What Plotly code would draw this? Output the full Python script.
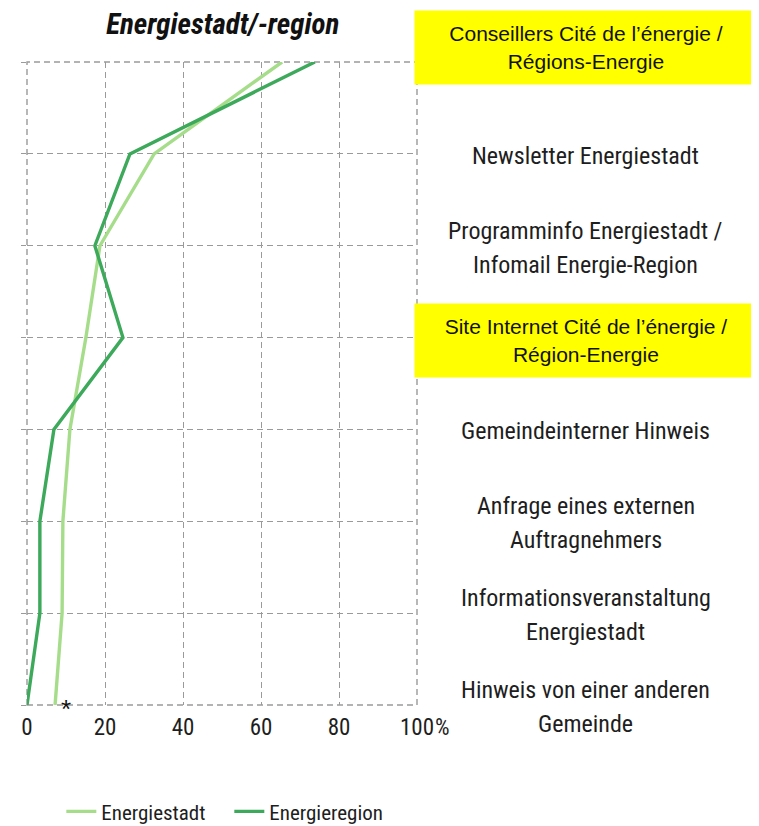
import plotly.graph_objects as go

categories = [
    "Conseillers Cité de l’énergie /<br>Régions-Energie",
    "Newsletter Energiestadt",
    "Programminfo Energiestadt /<br>Infomail Energie-Region",
    "Site Internet Cité de l’énergie /<br>Région-Energie",
    "Gemeindeinterner Hinweis",
    "Anfrage eines externen<br>Auftragnehmers",
    "Informationsveranstaltung<br>Energiestadt",
    "Hinweis von einer anderen<br>Gemeinde",
]
highlighted = [True, False, False, True, False, False, False, False]
energiestadt = [65.4, 32.6, 18.7, 15.1, 11.0, 9.2, 9.0, 7.2]
energieregion = [73.8, 26.4, 17.4, 24.6, 6.9, 3.3, 3.3, 0.0]
x_tickvals = [0, 20, 40, 60, 80, 100]
x_ticktext = ["0", "20", "40", "60", "80", "100"]

NARROW = "Liberation Sans Narrow, Arial Narrow, Roboto Condensed, sans-serif"
ARIAL = "Liberation Sans, Arial, sans-serif"
LIGHT = "#a6dd8b"
DARK = "#3da95a"
GRID = "#9a9a9a"
TXT = "#1e1e1e"

fig = go.Figure()
fig.add_trace(go.Scatter(x=energiestadt, y=categories, mode="lines", name="Energiestadt",
                         line=dict(color=LIGHT, width=3.4)))
fig.add_trace(go.Scatter(x=energieregion, y=categories, mode="lines", name="Energieregion",
                         line=dict(color=DARK, width=3.4)))

LABEL_X = 1.433
LINE_GAP = 34
annotations = []
for cat, hl in zip(categories, highlighted):
    if hl:
        annotations.append(dict(
            x=LABEL_X, xref="paper", y=cat, yref="y", text=cat, showarrow=False,
            xanchor="center", yanchor="middle", bgcolor="#ffff00",
            width=340, height=71, borderpad=1, align="center",
            yshift=15 if cat == categories[0] else -3,
            font=dict(family=ARIAL, size=21, color="#111111")))
    else:
        lines = cat.split("<br>")
        n = len(lines)
        for i, ln in enumerate(lines):
            annotations.append(dict(
                x=LABEL_X, xref="paper", y=cat, yref="y", text=ln, showarrow=False,
                xanchor="center", yanchor="middle", align="center",
                yshift=-2 + ((n - 1) / 2 - i) * LINE_GAP,
                font=dict(family=NARROW, size=24, color=TXT)))

annotations.append(dict(x=100, xref="x", y=-0.036, yref="paper", text="%", showarrow=False,
                        xanchor="left", yanchor="middle", xshift=16, yshift=1,
                        font=dict(family=NARROW, size=23, color=TXT)))
annotations.append(dict(x=energiestadt[-1], xref="x", y=categories[-1], yref="y", text="*",
                        showarrow=False, xanchor="left", yanchor="middle", xshift=4, yshift=-4,
                        font=dict(family=ARIAL, size=26, color="#111111")))

# page body has an 8px margin: figure is drawn at (8, 8) in the window
fig.update_layout(
    width=751, height=818,
    margin=dict(l=19, r=342, t=54, b=121, autoexpand=False),
    paper_bgcolor="white", plot_bgcolor="white",
    title=dict(text="<b><i>Energiestadt/-region</i></b>", x=0.286, xanchor="center",
               y=0.981, yanchor="middle",
               font=dict(family=NARROW, size=29, color="#111111")),
    xaxis=dict(range=[0, 100], tickvals=x_tickvals, ticktext=x_ticktext,
               showgrid=True, gridcolor=GRID, griddash="6px,4px", gridwidth=1.4,
               zeroline=False, showline=False, ticks="", ticklabelstandoff=6,
               automargin=False,
               tickfont=dict(family=NARROW, size=23, color=TXT)),
    yaxis=dict(type="category", categoryorder="array", categoryarray=categories,
               range=[7, 0], showticklabels=False, showgrid=True, gridcolor=GRID,
               griddash="6px,4px", gridwidth=1.4, zeroline=False, showline=False,
               automargin=False,
               ticks="outside", ticklen=5, tickcolor=GRID),
    shapes=[dict(type="rect", xref="paper", yref="paper", x0=0, x1=1, y0=0, y1=1,
                 line=dict(color=GRID, width=1.4, dash="6px,4px"), layer="below")],
    showlegend=True,
    legend=dict(orientation="h", x=0.088, xanchor="left", y=-0.166, yanchor="middle",
                font=dict(family=NARROW, size=21, color=TXT),
                itemwidth=30, entrywidth=123, tracegroupgap=0, borderwidth=0,
                bgcolor="rgba(0,0,0,0)"),
    annotations=annotations,
)

fig.write_html("out.html")
